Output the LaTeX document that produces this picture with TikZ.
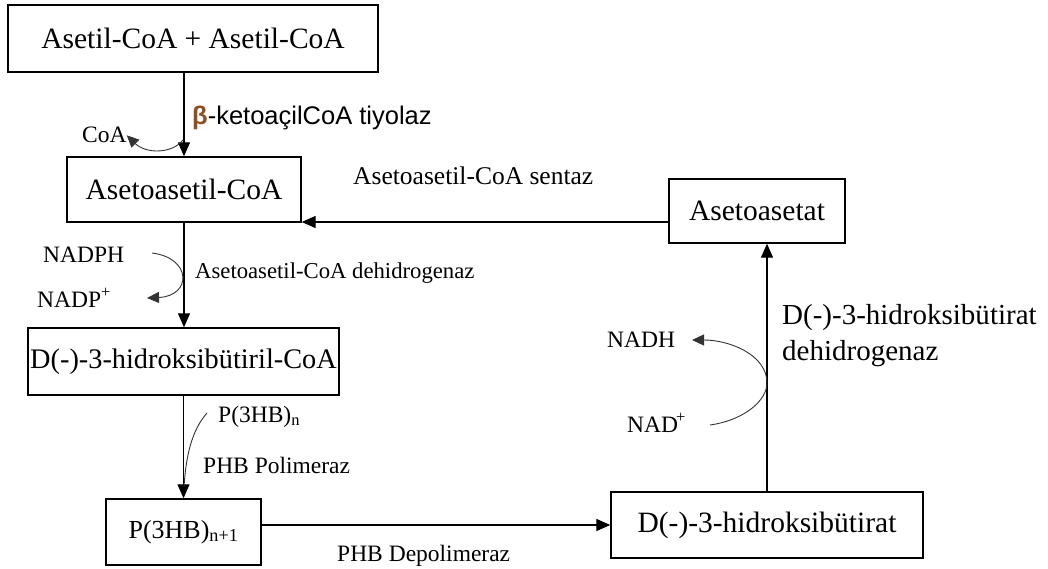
\documentclass[tikz,border=0pt]{standalone}
\usepackage{fontspec}
\setmainfont{Liberation Serif}
\newfontfamily\arialf{Liberation Sans}
\usetikzlibrary{arrows.meta}
\definecolor{betabrown}{RGB}{140,80,35}
\begin{document}
\begin{tikzpicture}[x=1pt,y=-1pt,
  box/.style={draw, line width=1.4pt, inner sep=0pt, font=\fontsize{29.5}{34}\selectfont},
  lab/.style={anchor=base west, inner sep=0pt, font=\fontsize{23.5}{28}\selectfont},
  arr/.style={line width=1.3pt, -{Triangle[length=14pt,width=12pt]}},
  curv/.style={line width=0.9pt, draw=black!80},
  carr/.style={curv, -{Triangle[length=12pt,width=11pt]}}]
\useasboundingbox (0,0) rectangle (1048,569);
% boxes
\node[box, minimum width=370, minimum height=67] (b1) at (193,38.5) {Asetil-CoA + Asetil-CoA};
\node[box, minimum width=234, minimum height=65] (b2) at (184,189.5) {Asetoasetil-CoA\hspace{6pt}};
\node[box, minimum width=311, minimum height=67, font=\fontsize{28.3}{33}\selectfont] (b3) at (183.5,361.5) {D(-)-3-hidroksibütiril-CoA};
\node[box, minimum width=155, minimum height=66, font=\fontsize{26}{30}\selectfont] (b4) at (183.5,532) {P(3HB)\textsubscript{n+1}\hspace{18pt}};
\node[box, minimum width=312, minimum height=66] (b5) at (767,525) {D(-)-3-hidroksibütirat};
\node[box, minimum width=176, minimum height=64] (b6) at (757,211) {Asetoasetat};
% main arrows
\draw[arr] (b1.south -| b2.north) -- (b2.north);
\draw[arr] (b2.south) -- (b2.south |- b3.north);
\draw[arr] (b3.south) -- (b3.south |- b4.north);
\draw[arr] (b4.east |- b5.west) -- (b5.west);
\draw[arr] (b5.north) -- (b5.north |- b6.south);
\coordinate (s1) at ([yshift=-11pt]b6.west);
\draw[arr] (s1) -- (s1 -| b2.east);
% labels
\node[anchor=base west, inner sep=0pt, font=\arialf\fontsize{25.5}{30}\selectfont] (tiy) at (192,125) {\textcolor{betabrown}{\textbf{β}}-ketoaçilCoA tiyolaz};
\node[lab] (coa) at (82,143) {CoA};
\node[lab] (nadph) at (43,262) {NADPH};
\node[lab] (nadp) at (37,307) {NADP\textsuperscript{+}};
\node[lab, font=\fontsize{22.7}{27}\selectfont] (dh1) at (195,278) {Asetoasetil-CoA dehidrogenaz};
\node[lab, font=\fontsize{25.5}{30}\selectfont] (sent) at (353,185) {Asetoasetil-CoA sentaz};
\node[lab] (p3hb) at (218,422) {P(3HB)\textsubscript{n}};
\node[lab] (pol) at (203,473) {PHB Polimeraz};
\node[lab] (depol) at (337,561) {PHB Depolimeraz};
\node[lab] (nadh) at (607,347) {NADH};
\node[lab] (nad) at (627,432) {NAD\kern-2pt\textsuperscript{+}};
\node[lab, font=\fontsize{29}{36}\selectfont, align=left] (dh2) at (782,360) {D(-)-3-hidroksibütirat\\[-0.5pt]dehidrogenaz};
% side curves
\coordinate (c1) at (183,140);
\coordinate (c2) at (152,253);
\coordinate (c3) at (147,298);
\coordinate (c4) at (207,413);
\coordinate (c5) at (184,487);
\coordinate (c6) at (710,425);
\coordinate (c7) at (767,383);
\coordinate (c8) at (692,340);
\draw[carr] (c1) .. controls (172,154) and (146,154) .. (coa.east);
\draw[carr] (c2) .. controls (192,258) and (192,296) .. (c3);
\draw[curv] (c4) .. controls (192,430) and (186,455) .. (c5);
\draw[curv] (c6) .. controls (745,420) and (767,400) .. (c7);
\draw[carr] (c7) .. controls (767,355) and (730,340) .. (c8);
\end{tikzpicture}
\end{document}
